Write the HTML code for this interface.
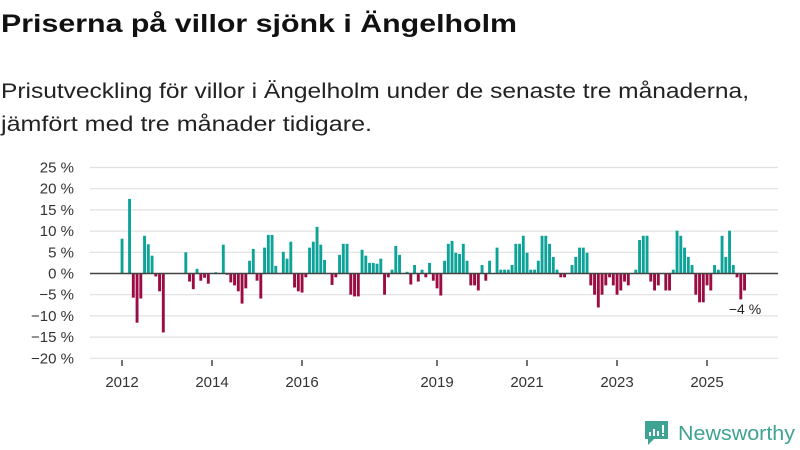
<!DOCTYPE html>
<html><head><meta charset="utf-8"><style>
html,body{margin:0;padding:0;background:#fff;width:800px;height:450px;overflow:hidden}
svg{display:block;font-family:"Liberation Sans",sans-serif}
</style></head><body>
<svg id="chart" width="800" height="450">
<text x="1" y="32" font-size="25" font-weight="bold" fill="#111" textLength="516" lengthAdjust="spacingAndGlyphs">Priserna på villor sjönk i Ängelholm</text>
<text x="1" y="98" font-size="21" fill="#222" textLength="748" lengthAdjust="spacingAndGlyphs">Prisutveckling för villor i Ängelholm under de senaste tre månaderna,</text>
<text x="1" y="131" font-size="21" fill="#222" textLength="371" lengthAdjust="spacingAndGlyphs">jämfört med tre månader tidigare.</text>
<g id="grid"></g><g id="bars"></g><g id="axes"></g>
<text x="745" y="314" font-size="14" fill="#222" text-anchor="middle">−4 %</text>
<g>
<path d="M645,421 h23 v18 h-14 l-6,6 v-6 h-3 z" fill="#3ea392"/>
<rect x="649" y="432" width="2" height="4" fill="#fff"/><rect x="653" y="429" width="2" height="7" fill="#fff"/><rect x="657" y="431" width="2" height="5" fill="#fff"/><rect x="662" y="425" width="2" height="8" fill="#fff"/><rect x="662" y="434" width="2" height="2" fill="#fff"/>
<text x="678" y="440" font-size="20" fill="#3ea392" textLength="117" lengthAdjust="spacingAndGlyphs">Newsworthy</text>
</g>
</svg>
<script>
const values = [
8.2,null,17.6,-5.7,-11.6,-5.9,8.9,6.9,4.2,-0.7,-4.2,-13.9,
null,null,null,null,null,5,-1.9,-3.7,1.1,-1.7,-1,-2.4,
null,0.3,null,6.8,-0.3,-2.1,-2.8,-4.2,-7.1,-3.5,3,5.8,
-1.7,-5.9,6.1,9.1,9.1,1.8,null,5.1,3.5,7.5,-3.3,-4.2,
-4.5,-0.9,6.1,7.5,11,6.8,3.2,null,-2.7,-0.9,4.4,7,
7,-5,-5.4,-5.4,5.6,4.2,2.5,2.5,2.3,3.5,-5,-0.9,
0.9,6.5,4.4,null,0.4,-2.6,2,-1.9,0.9,-0.9,2.5,-1.7,
-3.5,-5.2,3,7,7.7,4.9,4.6,7,3,-2.8,-2.8,-4,
2,-1.7,3,null,6.1,0.9,0.9,0.9,2,7,7,8.9,
4.9,0.9,0.9,3,8.9,8.9,7,3.9,0.9,-0.9,-0.9,null,
2,3.9,6.1,6.1,4.9,-2.8,-5,-8,-5,-2.8,-0.9,-2.8,
-5,-4,-1.9,-2.8,null,0.9,7.9,8.9,8.9,-1.9,-4,-2.8,
null,-4,-4,0.9,10.1,8.9,6.1,3.9,2,-5,-6.8,-6.8,
-2.8,-4,2,0.9,8.9,3.9,10.1,2,-0.9,-6.1,-4];
const startYear = 2012;
const yTicks = [25,20,15,10,5,0,-5,-10,-15,-20];
const xTickYears = [2012,2014,2016,2019,2021,2023,2025];
const NS="http://www.w3.org/2000/svg";
function y(v){return 273.5 - v*4.24;}
function x(m){return 122 + m*3.75;}
function mk(tag,attrs,parent){const e=document.createElementNS(NS,tag);for(const k in attrs)e.setAttribute(k,attrs[k]);parent.appendChild(e);return e;}
const grid=document.getElementById('grid'),bars=document.getElementById('bars'),axes=document.getElementById('axes');
yTicks.forEach(t=>{
  const l=mk('line',{x1:90,x2:778,y1:y(t),y2:y(t),stroke:'#e0e0e0','stroke-width':1.2},grid);
  
  
  const tx=mk('text',{x:74,y:y(t)+5,'font-size':15,fill:'#333','text-anchor':'end'},axes);
  tx.textContent=(t<0?'−'+(-t):t)+' %';
  
  
});
values.forEach((v,m)=>{
  if(v===null)return;
  const r=mk('rect',{x:x(m)-1.4,width:2.9,y:Math.min(y(v),y(0)),height:Math.abs(y(v)-y(0)),fill:v>=0?'#0ea398':'#9a0c42'},bars);
  
  
});
const z=mk('line',{x1:90,x2:778,y1:y(0),y2:y(0),stroke:'#444','stroke-width':1.5},axes);


xTickYears.forEach(yr=>{
  const xx=x((yr-startYear)*12);
  const t=mk('line',{x1:xx,x2:xx,y1:360,y2:366,stroke:'#444','stroke-width':1.5},axes);
  
  
  const tx=mk('text',{x:xx,y:387,'font-size':15,fill:'#333','text-anchor':'middle'},axes);
  tx.textContent=yr;
  
  
});
</script>
</body></html>
